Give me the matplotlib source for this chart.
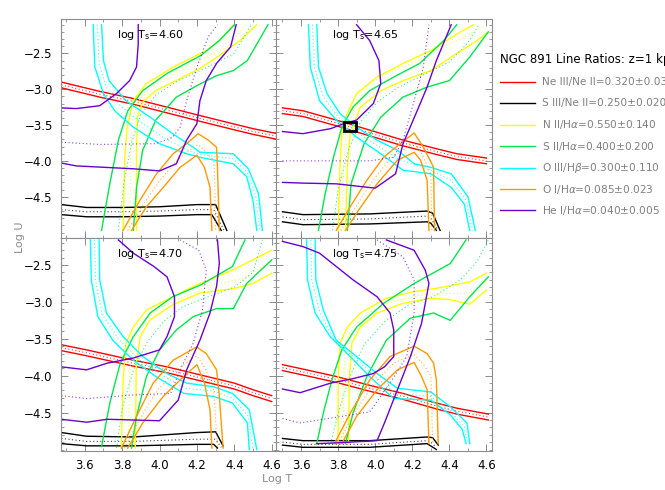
import matplotlib
matplotlib.use('Agg')
import matplotlib.pyplot as plt
from matplotlib.lines import Line2D
from matplotlib.patches import Rectangle
from matplotlib.ticker import MultipleLocator, FixedLocator

# --- dados: cada razão tem (linha 1, linha central pontilhada, linha 2) ---
# log T_s = 4.60
t460_ne3 = [[(3.475, -2.90), (3.68, -3.03), (3.86, -3.13), (4.04, -3.25), (4.22, -3.37), (4.39, -3.48), (4.50, -3.55), (4.63, -3.62)],
            [(3.475, -2.94), (3.68, -3.07), (3.86, -3.17), (4.04, -3.29), (4.22, -3.41), (4.39, -3.52), (4.50, -3.59), (4.63, -3.66)],
            [(3.475, -2.98), (3.68, -3.11), (3.86, -3.21), (4.04, -3.33), (4.22, -3.45), (4.39, -3.56), (4.50, -3.63), (4.63, -3.70)]]
t460_s3 = [[(3.475, -4.61), (3.61, -4.65), (3.80, -4.65), (4.0, -4.64), (4.2, -4.61), (4.30, -4.61), (4.36, -4.97)],
           [(3.475, -4.68), (3.61, -4.71), (3.80, -4.71), (4.0, -4.70), (4.2, -4.68), (4.29, -4.68), (4.345, -4.97)],
           [(3.475, -4.75), (3.61, -4.78), (3.80, -4.78), (4.0, -4.77), (4.2, -4.75), (4.28, -4.75), (4.33, -4.97)]]
t460_n2 = [[(3.805, -4.97), (3.814, -3.95), (3.827, -3.53), (3.859, -3.16), (3.93, -2.92), (4.073, -2.69), (4.25, -2.46), (4.32, -2.32), (4.40, -2.10)],
           [(3.84, -4.97), (3.845, -3.90), (3.853, -3.45), (3.885, -3.17), (3.955, -2.97), (4.09, -2.77), (4.23, -2.58), (4.37, -2.40), (4.46, -2.10)],
           [(3.877, -4.97), (3.877, -3.85), (3.882, -3.39), (3.91, -3.18), (3.98, -3.02), (4.11, -2.85), (4.216, -2.71), (4.32, -2.53), (4.43, -2.32), (4.52, -2.10)]]
t460_s2 = [[(3.69, -4.97), (3.734, -4.32), (3.78, -3.71), (3.83, -3.30), (3.91, -3.02), (4.04, -2.78), (4.22, -2.53), (4.32, -2.32), (4.40, -2.10)],
           [(3.78, -4.97), (3.81, -4.30), (3.85, -3.75), (3.90, -3.35), (3.98, -3.08), (4.10, -2.88), (4.25, -2.70), (4.40, -2.50), (4.49, -2.10)],
           [(3.86, -4.97), (3.877, -4.37), (3.91, -3.85), (3.98, -3.43), (4.09, -3.11), (4.20, -2.95), (4.305, -2.81), (4.395, -2.74), (4.47, -2.60), (4.58, -2.10)]]
t460_o3 = [[(3.645, -2.10), (3.654, -2.69), (3.70, -3.06), (3.76, -3.30), (3.86, -3.53), (4.0, -3.76), (4.145, -3.90), (4.216, -3.95), (4.395, -4.04), (4.466, -4.22), (4.50, -4.55), (4.52, -4.97)],
           [(3.667, -2.10), (3.677, -2.65), (3.715, -2.97), (3.79, -3.23), (3.90, -3.46), (4.03, -3.69), (4.16, -3.86), (4.216, -3.91), (4.395, -3.97), (4.47, -4.16), (4.515, -4.50), (4.535, -4.97)],
           [(3.69, -2.10), (3.70, -2.60), (3.73, -2.88), (3.82, -3.16), (3.95, -3.39), (4.07, -3.62), (4.18, -3.81), (4.216, -3.88), (4.395, -3.90), (4.475, -4.11), (4.53, -4.46), (4.55, -4.97)]]
t460_o1 = [[(3.805, -4.97), (3.895, -4.55), (3.984, -4.18), (4.073, -3.90), (4.145, -3.76), (4.207, -3.62), (4.26, -3.71), (4.305, -3.81), (4.31, -4.09), (4.32, -4.97)],
           [(3.83, -4.97), (3.915, -4.60), (4.0, -4.28), (4.09, -4.00), (4.16, -3.85), (4.205, -3.77), (4.25, -3.88), (4.29, -4.0), (4.295, -4.3), (4.30, -4.97)],
           [(3.85, -4.97), (3.93, -4.64), (4.02, -4.37), (4.11, -4.09), (4.20, -3.92), (4.24, -4.09), (4.27, -4.37), (4.28, -4.97)]]
t460_he1 = [[(3.475, -3.26), (3.555, -3.27), (3.68, -3.23), (3.77, -3.06), (3.84, -2.88), (3.877, -2.69), (3.886, -2.37), (3.886, -2.10)],
            [(3.475, -3.74), (3.68, -3.77), (3.98, -3.76), (4.07, -3.67), (4.11, -3.53), (4.145, -3.16), (4.20, -2.69), (4.26, -2.27), (4.31, -2.10)],
            [(3.475, -4.03), (3.555, -4.07), (3.86, -4.11), (4.0, -4.14), (4.09, -4.04), (4.145, -3.71), (4.2, -3.48), (4.216, -3.16), (4.25, -2.88), (4.305, -2.64), (4.38, -2.41), (4.41, -2.10)]]

# log T_s = 4.65
t465_ne3 = [[(3.50, -3.26), (3.61, -3.30), (3.79, -3.43), (3.97, -3.57), (4.15, -3.71), (4.33, -3.83), (4.44, -3.90), (4.60, -3.96)],
            [(3.50, -3.30), (3.61, -3.34), (3.79, -3.47), (3.97, -3.61), (4.15, -3.75), (4.33, -3.87), (4.44, -3.94), (4.60, -4.00)],
            [(3.50, -3.34), (3.61, -3.38), (3.79, -3.51), (3.97, -3.65), (4.15, -3.79), (4.33, -3.91), (4.44, -3.98), (4.60, -4.04)]]
t465_s3 = [[(3.50, -4.71), (3.61, -4.75), (3.97, -4.74), (4.28, -4.70), (4.31, -4.73), (4.35, -4.97)],
           [(3.50, -4.78), (3.61, -4.82), (3.97, -4.81), (4.28, -4.77), (4.30, -4.80), (4.34, -4.97)],
           [(3.50, -4.85), (3.61, -4.89), (3.97, -4.88), (4.28, -4.85), (4.30, -4.87), (4.33, -4.97)]]
t465_n2 = [[(3.80, -4.97), (3.81, -4.09), (3.82, -3.62), (3.84, -3.39), (3.90, -3.06), (4.01, -2.83), (4.15, -2.64), (4.30, -2.46), (4.44, -2.23), (4.53, -2.10)],
           [(3.82, -4.97), (3.83, -4.09), (3.842, -3.62), (3.88, -3.32), (3.965, -2.93), (4.08, -2.76), (4.23, -2.60), (4.37, -2.40), (4.50, -2.25), (4.58, -2.12)],
           [(3.84, -4.97), (3.85, -4.09), (3.865, -3.62), (3.92, -3.25), (4.03, -3.02), (4.15, -2.88), (4.30, -2.74), (4.44, -2.50), (4.55, -2.32), (4.61, -2.20)]]
t465_s2 = [[(3.694, -4.97), (3.73, -4.46), (3.775, -3.95), (3.82, -3.53), (3.88, -3.25), (3.97, -3.02), (4.10, -2.83), (4.24, -2.64), (4.37, -2.32), (4.44, -2.10)],
           [(3.77, -4.97), (3.80, -4.40), (3.855, -3.85), (3.92, -3.46), (4.01, -3.18), (4.12, -2.98), (4.26, -2.80), (4.40, -2.62), (4.50, -2.35), (4.56, -2.10)],
           [(3.85, -4.97), (3.87, -4.32), (3.94, -3.76), (4.03, -3.39), (4.15, -3.11), (4.28, -2.97), (4.40, -2.88), (4.51, -2.55), (4.61, -2.20)]]
t465_o3 = [[(3.64, -2.10), (3.65, -2.69), (3.70, -3.16), (3.79, -3.43), (3.90, -3.67), (4.03, -3.90), (4.15, -4.13), (4.30, -4.18), (4.41, -4.37), (4.48, -4.60), (4.51, -4.97)],
           [(3.662, -2.10), (3.672, -2.69), (3.72, -3.11), (3.80, -3.39), (3.90, -3.60), (4.02, -3.80), (4.13, -3.98), (4.30, -4.13), (4.41, -4.27), (4.49, -4.55), (4.525, -4.97)],
           [(3.685, -2.10), (3.694, -2.69), (3.74, -3.06), (3.81, -3.34), (3.90, -3.53), (4.01, -3.71), (4.12, -3.85), (4.21, -4.04), (4.30, -4.09), (4.41, -4.18), (4.50, -4.50), (4.54, -4.97)]]
t465_o1 = [[(3.79, -4.97), (3.865, -4.64), (3.955, -4.27), (4.045, -3.95), (4.135, -3.76), (4.21, -3.61), (4.26, -3.81), (4.315, -4.09), (4.32, -4.97)],
           [(3.815, -4.97), (3.89, -4.66), (3.98, -4.30), (4.08, -3.97), (4.17, -3.82), (4.21, -3.75), (4.25, -3.90), (4.30, -4.18), (4.305, -4.97)],
           [(3.84, -4.97), (3.91, -4.69), (4.01, -4.32), (4.12, -3.99), (4.21, -3.88), (4.245, -3.99), (4.28, -4.27), (4.29, -4.97)]]
t465_he1 = [[(3.90, -2.10), (3.97, -2.32), (4.02, -2.60), (4.03, -2.92), (3.99, -3.20), (3.90, -3.43), (3.83, -3.48), (3.76, -3.55), (3.61, -3.62), (3.50, -3.59)],
            [(3.50, -4.0), (3.97, -4.0), (4.10, -3.95), (4.15, -3.71), (4.21, -3.16), (4.26, -2.69), (4.29, -2.10)],
            [(3.50, -4.30), (3.61, -4.31), (3.79, -4.32), (4.0, -4.38), (4.11, -4.18), (4.15, -3.76), (4.22, -3.34), (4.28, -2.97), (4.33, -2.60), (4.41, -2.10)]]

# log T_s = 4.70
t470_ne3 = [[(3.475, -3.58), (3.61, -3.65), (3.86, -3.79), (4.04, -3.88), (4.22, -3.99), (4.40, -4.10), (4.50, -4.19), (4.60, -4.27)],
            [(3.475, -3.62), (3.61, -3.69), (3.86, -3.83), (4.04, -3.92), (4.22, -4.03), (4.40, -4.14), (4.50, -4.23), (4.60, -4.31)],
            [(3.475, -3.66), (3.61, -3.73), (3.86, -3.87), (4.04, -3.96), (4.22, -4.07), (4.40, -4.18), (4.50, -4.27), (4.60, -4.35)]]
t470_s3 = [[(3.475, -4.77), (3.61, -4.82), (3.86, -4.83), (4.2, -4.77), (4.30, -4.76), (4.34, -4.95)],
           [(3.475, -4.85), (3.61, -4.89), (3.86, -4.89), (4.2, -4.86), (4.30, -4.86), (4.33, -4.97)],
           [(3.475, -4.92), (3.61, -4.95), (3.86, -4.95), (4.2, -4.93), (4.29, -4.93), (4.31, -4.98)]]
t470_n2 = [[(3.796, -4.98), (3.805, -4.06), (3.82, -3.56), (3.86, -3.34), (3.93, -3.11), (4.04, -2.97), (4.18, -2.79), (4.39, -2.57), (4.60, -2.30)],
           [(3.833, -4.98), (3.84, -3.95), (3.86, -3.52), (3.905, -3.29), (4.0, -3.08), (4.13, -2.93), (4.30, -2.76), (4.45, -2.68), (4.60, -2.45)],
           [(3.87, -4.98), (3.876, -3.83), (3.897, -3.47), (3.95, -3.24), (4.07, -3.04), (4.216, -2.88), (4.395, -2.82), (4.50, -2.75), (4.60, -2.61)]]
t470_s2 = [[(3.69, -4.96), (3.734, -4.37), (3.79, -3.83), (3.86, -3.47), (3.95, -3.15), (4.07, -2.93), (4.22, -2.77), (4.39, -2.52), (4.457, -2.16)],
           [(3.77, -4.98), (3.80, -4.45), (3.86, -3.92), (3.93, -3.56), (4.02, -3.27), (4.12, -3.07), (4.26, -2.93), (4.40, -2.80), (4.50, -2.60), (4.55, -2.16)],
           [(3.85, -4.98), (3.877, -4.55), (3.93, -4.01), (4.0, -3.65), (4.09, -3.38), (4.18, -3.20), (4.305, -3.09), (4.395, -3.09), (4.466, -2.75), (4.60, -2.43)]]
t470_o3 = [[(3.63, -2.16), (3.635, -2.70), (3.67, -3.20), (3.75, -3.52), (3.86, -3.79), (3.98, -4.01), (4.13, -4.24), (4.29, -4.28), (4.39, -4.37), (4.47, -4.64), (4.48, -5.0)],
           [(3.653, -2.16), (3.657, -2.70), (3.693, -3.17), (3.78, -3.50), (3.885, -3.77), (4.01, -3.99), (4.14, -4.17), (4.29, -4.21), (4.39, -4.30), (4.475, -4.55), (4.50, -5.0)],
           [(3.677, -2.16), (3.68, -2.70), (3.716, -3.15), (3.805, -3.47), (3.91, -3.74), (4.04, -3.97), (4.145, -4.10), (4.29, -4.15), (4.39, -4.24), (4.48, -4.46), (4.52, -5.0)]]
t470_o1 = [[(3.796, -4.98), (3.877, -4.55), (3.966, -4.10), (4.073, -3.79), (4.198, -3.61), (4.25, -3.70), (4.305, -3.92), (4.32, -4.28), (4.34, -4.98)],
           [(3.813, -4.98), (3.89, -4.60), (3.99, -4.19), (4.10, -3.90), (4.20, -3.73), (4.245, -3.90), (4.29, -4.2), (4.31, -4.98)],
           [(3.83, -4.98), (3.91, -4.64), (4.02, -4.28), (4.13, -4.01), (4.20, -3.85), (4.24, -4.10), (4.27, -4.46), (4.28, -4.98)]]
t470_he1 = [[(3.78, -2.16), (3.86, -2.34), (3.97, -2.52), (4.04, -2.66), (4.08, -2.93), (4.08, -3.20), (4.04, -3.47), (4.0, -3.65), (3.86, -3.76), (3.72, -3.83), (3.61, -3.92), (3.475, -3.88)],
            [(3.475, -4.27), (3.61, -4.31), (3.86, -4.26), (4.06, -4.24), (4.11, -3.92), (4.18, -3.56), (4.23, -3.11), (4.25, -2.57), (4.21, -2.30), (4.11, -2.16)],
            [(3.475, -4.59), (3.61, -4.63), (3.72, -4.59), (4.0, -4.61), (4.10, -4.33), (4.145, -3.92), (4.216, -3.52), (4.27, -3.15), (4.305, -2.79), (4.32, -2.48), (4.31, -2.16)]]

# log T_s = 4.75
t475_ne3 = [[(3.50, -3.85), (3.61, -3.91), (3.79, -4.01), (3.97, -4.13), (4.15, -4.24), (4.33, -4.37), (4.44, -4.44), (4.61, -4.52)],
            [(3.50, -3.89), (3.61, -3.95), (3.79, -4.05), (3.97, -4.17), (4.15, -4.28), (4.33, -4.41), (4.44, -4.48), (4.61, -4.56)],
            [(3.50, -3.93), (3.61, -3.99), (3.79, -4.09), (3.97, -4.21), (4.15, -4.32), (4.33, -4.45), (4.44, -4.52), (4.61, -4.60)]]
t475_s3 = [[(3.50, -4.85), (3.61, -4.88), (3.97, -4.88), (4.28, -4.83), (4.31, -4.84), (4.34, -4.94)],
           [(3.50, -4.90), (3.61, -4.93), (3.97, -4.93), (4.28, -4.88), (4.30, -4.90), (4.33, -4.97)],
           [(3.50, -4.94), (3.61, -4.97), (3.97, -4.97), (4.28, -4.92), (4.33, -5.0)]]
t475_n2 = [[(3.80, -4.92), (3.80, -4.06), (3.81, -3.56), (3.85, -3.34), (3.92, -3.15), (4.06, -2.95), (4.21, -2.86), (4.32, -2.82), (4.51, -2.73), (4.60, -2.61)],
           [(3.83, -4.92), (3.83, -4.06), (3.84, -3.56), (3.88, -3.34), (3.96, -3.15), (4.10, -2.99), (4.26, -2.90), (4.36, -2.89), (4.51, -2.88), (4.60, -2.72)],
           [(3.856, -4.92), (3.86, -4.06), (3.874, -3.56), (3.92, -3.34), (4.01, -3.15), (4.15, -3.02), (4.30, -2.95), (4.405, -2.97), (4.51, -3.03), (4.60, -2.84)]]
t475_s2 = [[(3.685, -4.92), (3.72, -4.51), (3.766, -4.06), (3.82, -3.65), (3.90, -3.34), (4.045, -3.02), (4.21, -2.75), (4.405, -2.48), (4.49, -2.16)],
           [(3.76, -4.92), (3.80, -4.51), (3.86, -4.03), (3.94, -3.58), (4.05, -3.27), (4.18, -3.04), (4.32, -2.92), (4.46, -2.70), (4.55, -2.45), (4.61, -2.16)],
           [(3.84, -4.92), (3.88, -4.51), (3.955, -4.01), (4.06, -3.52), (4.19, -3.22), (4.315, -3.15), (4.405, -3.25), (4.51, -2.93), (4.61, -2.66)]]
t475_o3 = [[(3.63, -2.16), (3.635, -2.70), (3.676, -3.15), (3.757, -3.47), (3.865, -3.74), (3.97, -4.01), (4.10, -4.31), (4.30, -4.33), (4.405, -4.53), (4.47, -4.73), (4.49, -4.92)],
           [(3.653, -2.16), (3.657, -2.70), (3.70, -3.13), (3.775, -3.50), (3.88, -3.74), (3.99, -3.99), (4.11, -4.24), (4.30, -4.28), (4.405, -4.48), (4.48, -4.69), (4.50, -4.92)],
           [(3.676, -2.16), (3.68, -2.70), (3.72, -3.11), (3.79, -3.52), (3.90, -3.74), (4.01, -3.97), (4.12, -4.17), (4.30, -4.22), (4.405, -4.42), (4.495, -4.64), (4.51, -4.92)]]
t475_o1 = [[(3.78, -4.92), (3.865, -4.51), (3.97, -4.06), (4.08, -3.74), (4.21, -3.60), (4.28, -3.70), (4.315, -3.83), (4.33, -4.06), (4.34, -4.92)],
           [(3.80, -4.92), (3.88, -4.53), (3.99, -4.12), (4.10, -3.83), (4.21, -3.71), (4.26, -3.85), (4.30, -4.0), (4.31, -4.92)],
           [(3.82, -4.92), (3.90, -4.55), (4.01, -4.19), (4.12, -3.92), (4.21, -3.82), (4.25, -4.01), (4.28, -4.19), (4.29, -4.92)]]
t475_he1 = [[(3.50, -2.18), (3.61, -2.25), (3.70, -2.34), (3.88, -2.70), (4.01, -2.93), (4.08, -3.15), (4.10, -3.38), (4.10, -3.74), (4.05, -3.88), (3.99, -3.97), (3.88, -4.04), (3.76, -4.10), (3.595, -4.23), (3.50, -4.18)],
            [(3.50, -4.58), (3.595, -4.64), (3.97, -4.49), (4.08, -4.10), (4.17, -3.74), (4.21, -3.15), (4.21, -2.70), (4.15, -2.39), (4.01, -2.16)],
            [(3.685, -4.92), (3.79, -4.91), (4.01, -4.88), (4.05, -4.64), (4.12, -4.19), (4.19, -3.74), (4.25, -3.29), (4.29, -2.75), (4.27, -2.57), (4.21, -2.30), (4.06, -2.16)]]

# região de melhor ajuste (caixa preta no painel 4.65)
box_x = [3.83, 3.895]
box_y = [-3.578, -3.455]

temperaturas = ['4.60', '4.65', '4.70', '4.75']
legendas = ['Ne III/Ne II=0.320\u00b10.030', 'S III/Ne II=0.250\u00b10.020',
            r'N II/H$\alpha$=0.550' + '\u00b10.140', r'S II/H$\alpha$=0.400' + '\u00b10.200',
            r'O III/H$\beta$=0.300' + '\u00b10.110', r'O I/H$\alpha$=0.085' + '\u00b10.023',
            r'He I/H$\alpha$=0.040' + '\u00b10.005']
cores = ['#ff0000', '#000000', '#ffff00', '#00e64d', '#00ffff', '#ff9900', '#6a00d0']
yticks = [-4.5, -4.0, -3.5, -3.0, -2.5]

paineis = {
    '4.60': [t460_ne3, t460_s3, t460_n2, t460_s2, t460_o3, t460_o1, t460_he1],
    '4.65': [t465_ne3, t465_s3, t465_n2, t465_s2, t465_o3, t465_o1, t465_he1],
    '4.70': [t470_ne3, t470_s3, t470_n2, t470_s2, t470_o3, t470_o1, t470_he1],
    '4.75': [t475_ne3, t475_s3, t475_n2, t475_s2, t475_o3, t475_o1, t475_he1],
}

W, H = 665, 490
fig = plt.figure(figsize=(6.65, 4.9), dpi=100)

# posições em pixels (esq, topo, dir, baixo) medidas no original
caixas = {'4.60': (61, 19, 276, 238), '4.65': (276, 19, 492, 238),
          '4.70': (61, 238, 276, 451), '4.75': (276, 238, 492, 451)}
ylims = {'4.60': (-5.076, -2.02), '4.65': (-5.076, -2.02),
         '4.70': (-5.02, -2.134), '4.75': (-5.02, -2.134)}
xlims = {'4.60': (3.473, 4.623), '4.65': (3.465, 4.63),
         '4.70': (3.473, 4.623), '4.75': (3.465, 4.63)}

frame = '#8c8c8c'
for i, ts in enumerate(temperaturas):
    l, t, r, b = caixas[ts]
    ax = fig.add_axes([l / W, 1 - b / H, (r - l) / W, (b - t) / H])
    for curvas, cor in zip(paineis[ts], cores):
        for k, curva in enumerate(curvas):
            xs = [p[0] for p in curva]
            ys = [p[1] for p in curva]
            if k == 1:
                ax.plot(xs, ys, color=cor, lw=0.8, ls=(0, (1, 2.2)), alpha=0.75)
            else:
                ax.plot(xs, ys, color=cor, lw=1.0)
    if ts == '4.65':
        ax.add_patch(Rectangle((box_x[0], box_y[0]), box_x[1] - box_x[0], box_y[1] - box_y[0],
                               fill=False, ec='black', lw=2.0, zorder=5))
    ax.set_xlim(*xlims[ts])
    ax.set_ylim(*ylims[ts])
    ax.xaxis.set_major_locator(MultipleLocator(0.2))
    ax.xaxis.set_minor_locator(MultipleLocator(0.1))
    ax.yaxis.set_major_locator(FixedLocator(yticks))
    ax.yaxis.set_minor_locator(MultipleLocator(0.1))
    ax.tick_params(which='both', direction='in', top=True, right=True,
                   color=frame, labelsize=8.5, labelcolor='black', pad=6)
    ax.tick_params(which='major', length=5, width=0.7)
    ax.tick_params(which='minor', length=2.5, width=0.6)
    for s in ax.spines.values():
        s.set_color(frame)
        s.set_linewidth(0.8)
    if i < 2:
        ax.tick_params(labelbottom=False)
    if i % 2 == 1:
        ax.tick_params(labelleft=False)
    ax.text(0.26, 0.925, r'log T$_{\rm s}$=' + ts, transform=ax.transAxes,
            fontsize=8, ha='left', va='center')

fig.text(20 / W, 1 - 237 / H, 'Log U', rotation=90, color='#8c8c8c',
         fontsize=8, ha='center', va='center')
fig.text(277 / W, 1 - 479 / H, 'Log T', color='#8c8c8c', fontsize=8,
         ha='center', va='center')

# legenda à direita
fig.text(500 / W, 1 - 59 / H, 'NGC 891 Line Ratios: z=1 kpc', fontsize=8.5,
         ha='left', va='center')
for j, (txt, cor) in enumerate(zip(legendas, cores)):
    yy = 1 - (82 + j * 21.4) / H
    fig.add_artist(Line2D([500 / W, 535 / W], [yy, yy], color=cor, lw=1.0,
                          transform=fig.transFigure))
    fig.text(542 / W, yy, txt, fontsize=7.6, color='#808080', ha='left', va='center')

fig.savefig('out.png', dpi=100)
